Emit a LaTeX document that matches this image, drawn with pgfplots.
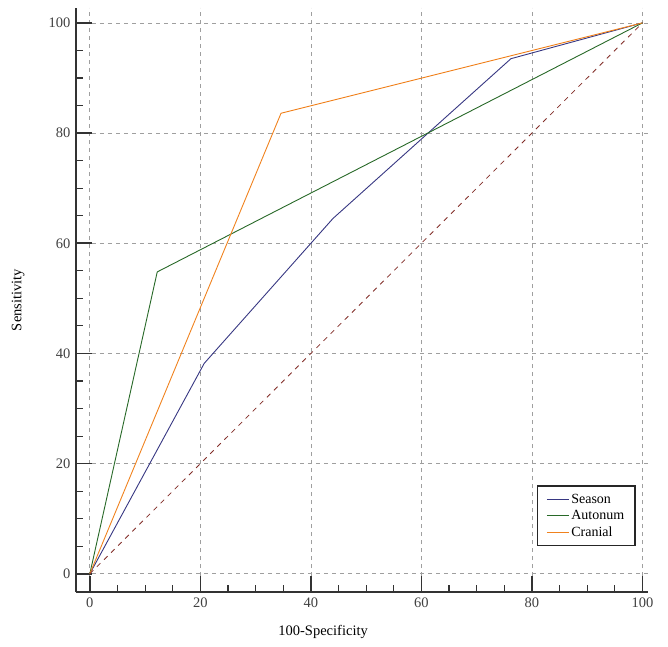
\documentclass[border=0pt]{standalone}
\usepackage{pgfplots}
\pgfplotsset{compat=1.18}
\usepackage{fontspec}
\setmainfont{Liberation Serif}

\definecolor{season}{RGB}{55,55,130}
\definecolor{autonum}{RGB}{40,105,40}
\definecolor{cranial}{RGB}{240,130,30}
\definecolor{diag}{RGB}{130,45,40}

\begin{document}
\begin{tikzpicture}
\begin{axis}[
    scale only axis,
    width=572pt, height=584pt,
    xmin=-2.5, xmax=101,
    ymin=-3.3, ymax=102.7,
    axis x line*=bottom, axis y line*=left,
    axis line style={line width=1.6pt, black!80},
    xtick={0,20,40,60,80,100},
    ytick={0,20,40,60,80,100},
    minor tick num=3,
    tick align=inside,
    major tick length=16pt, minor tick length=7pt,
    major tick style={line width=1.6pt, black!80},
    minor tick style={line width=1.1pt, black!80},
    grid=major,
    major grid style={dash pattern=on 4pt off 4pt, gray!75, line width=0.7pt},
    ticklabel style={font=\fontsize{14.5}{16}\selectfont, text=black!75},
    /pgf/number format/assume math mode=true,
    xticklabel style={yshift=-2pt},
    yticklabel style={xshift=-2pt},
    xlabel={100-Specificity},
    ylabel={Sensitivity},
    label style={font=\fontsize{14.5}{16}\selectfont},
    xlabel style={at={(axis description cs:0.432,0)}, anchor=center, yshift=-40pt},
    ylabel style={at={(axis description cs:-0.101,0.5)}, anchor=center},
    legend style={at={(0.979,0.183)}, anchor=north east, draw=black!85,
        line width=1.6pt, font=\fontsize{14}{15}\selectfont,
        inner xsep=9pt, inner ysep=6pt, row sep=1.5pt, legend cell align=left},
    legend image code/.code={\draw[#1, line width=1pt] (0pt,0pt) -- (22pt,0pt);},
]
\addplot[season, line width=0.9pt] coordinates {
    (0,0) (20.7,38.2) (44,64.5) (76.2,93.5) (100,100)
};
\addlegendentry{Season}
\addplot[autonum, line width=0.9pt] coordinates {
    (0,0) (12.2,54.8) (100,100)
};
\addlegendentry{Autonum}
\addplot[cranial, line width=0.9pt] coordinates {
    (0,0) (34.6,83.6) (100,100)
};
\addlegendentry{Cranial}
\addplot[diag, line width=0.8pt, dash pattern=on 5pt off 5pt, forget plot] coordinates {
    (0,0) (100,100)
};
\end{axis}
\path[use as bounding box] (-76pt,-54pt) rectangle (592pt,592pt);
\end{tikzpicture}
\end{document}
